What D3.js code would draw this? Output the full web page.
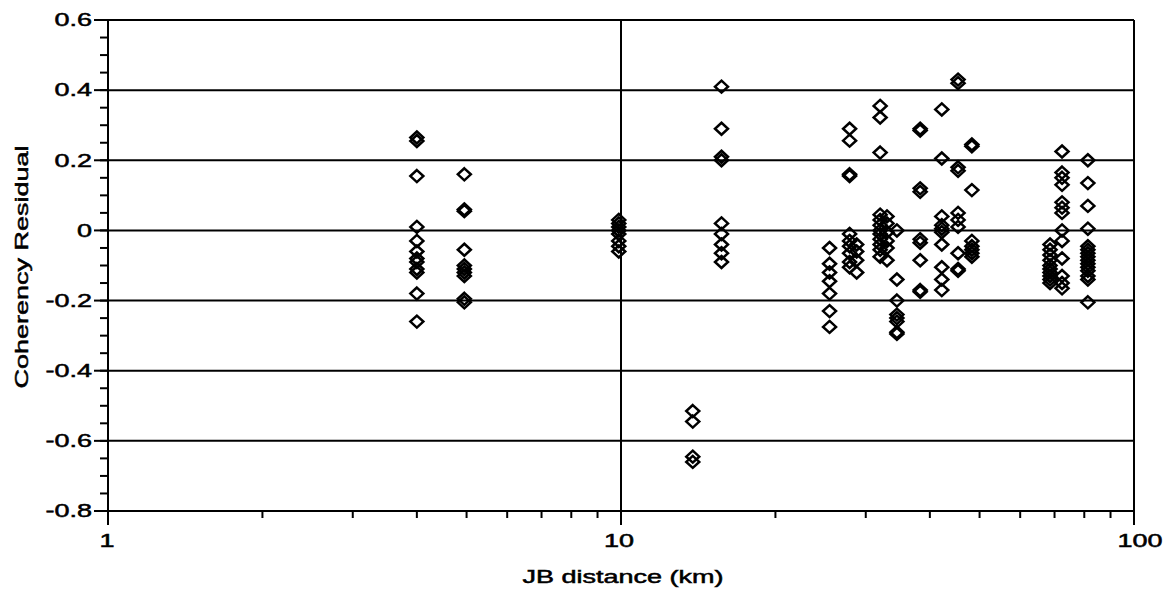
<!DOCTYPE html>
<html>
<head>
<meta charset="utf-8">
<script src="https://cdnjs.cloudflare.com/ajax/libs/d3/7.8.5/d3.min.js"></script>
<style>
  body { margin: 0; background: #fff; }
  text { font-family: Arial, "Liberation Sans", sans-serif; font-size: 18px; fill: #000; stroke: #000; stroke-width: 0.5px; }
</style>
</head>
<body>
<svg width="1170" height="590"></svg>
<script>
var svg = d3.select('svg');

// distance of each column of points (km)
var distanceKm = [4.0, 4.95, 9.9, 13.8, 15.7, 25.5, 27.9, 28.8, 32.0, 33.0, 34.5, 38.3, 42.2, 45.4, 48.3, 68.6, 72.4, 81.3];

var residuals = [
    [0.265, 0.255, 0.155, 0.01, -0.03, -0.06, -0.08, -0.09, -0.11, -0.12, -0.18, -0.26],
    [0.16, 0.06, 0.055, -0.055, -0.10, -0.11, -0.12, -0.13, -0.195, -0.205],
    [0.03, 0.02, 0.01, 0.0, -0.01, -0.03, -0.045, -0.06],
    [-0.515, -0.545, -0.645, -0.66],
    [0.41, 0.29, 0.21, 0.2, 0.02, -0.01, -0.04, -0.065, -0.09],
    [-0.05, -0.095, -0.12, -0.145, -0.18, -0.23, -0.275],
    [0.29, 0.256, 0.16, 0.155, -0.01, -0.03, -0.045, -0.065, -0.09, -0.105],
    [-0.04, -0.06, -0.085, -0.12],
    [0.355, 0.322, 0.222, 0.045, 0.03, 0.015, 0.0, -0.01, -0.025, -0.04, -0.055, -0.075],
    [0.04, 0.02, -0.005, -0.03, -0.05, -0.085],
    [0.0, -0.14, -0.2, -0.24, -0.25, -0.26, -0.29, -0.295],
    [0.29, 0.285, 0.12, 0.11, -0.025, -0.035, -0.085, -0.17, -0.175],
    [0.345, 0.205, 0.04, 0.015, 0.005, -0.005, -0.04, -0.105, -0.14, -0.17],
    [0.43, 0.42, 0.18, 0.17, 0.05, 0.03, 0.01, -0.065, -0.11, -0.115],
    [0.245, 0.24, 0.115, -0.03, -0.045, -0.055, -0.065, -0.075],
    [-0.04, -0.055, -0.07, -0.085, -0.1, -0.11, -0.12, -0.13, -0.14, -0.15],
    [0.225, 0.165, 0.15, 0.13, 0.08, 0.065, 0.05, 0.0, -0.03, -0.08, -0.13, -0.15, -0.165],
    [0.2, 0.135, 0.07, 0.005, -0.045, -0.055, -0.065, -0.075, -0.085, -0.095, -0.105, -0.115, -0.13, -0.14, -0.205]
];

var yTicks = [0.6, 0.4, 0.2, 0, -0.2, -0.4, -0.6, -0.8];
var yTickLabels = ['0.6', '0.4', '0.2', '0', '-0.2', '-0.4', '-0.6', '-0.8'];
var xTicks = [1, 10, 100];
var xTickLabels = ['1', '10', '100'];
var xMinor = [2, 3, 4, 5, 6, 7, 8, 9, 20, 30, 40, 50, 60, 70, 80, 90];
var yMinor = d3.range(-0.8, 0.6001, 0.05);

var x = d3.scaleLog().domain([1, 100]).range([108, 1134]);
var y = d3.scaleLinear().domain([-0.8, 0.6]).range([511, 20]);

var points = [];
distanceKm.forEach(function (dist, i) {
    residuals[i].forEach(function (r) {
        points.push({dist: dist, res: r});
    });
});

// horizontal grid lines
svg.selectAll('.grid')
    .data(yTicks.slice(0, 7))
    .enter()
    .append('line')
    .attr('x1', x(1))
    .attr('x2', x(100))
    .attr('y1', function(d){ return y(d); })
    .attr('y2', function(d){ return y(d); })
    .attr('stroke', '#000')
    .attr('stroke-width', 2);

// vertical line at 10 and right border at 100
svg.selectAll('.vgrid')
    .data([10, 100])
    .enter()
    .append('line')
    .attr('x1', function(d){ return x(d); })
    .attr('x2', function(d){ return x(d); })
    .attr('y1', y(0.6))
    .attr('y2', y(-0.8))
    .attr('stroke', '#000')
    .attr('stroke-width', 2);

// axes lines
svg.append('line')
    .attr('x1', x(1)).attr('x2', x(1))
    .attr('y1', y(0.6)).attr('y2', y(-0.8))
    .attr('stroke', '#000').attr('stroke-width', 2);
svg.append('line')
    .attr('x1', x(1)).attr('x2', x(100))
    .attr('y1', y(-0.8)).attr('y2', y(-0.8))
    .attr('stroke', '#000').attr('stroke-width', 2);

// y ticks
svg.selectAll('.yminor')
    .data(yMinor)
    .enter()
    .append('line')
    .attr('x1', x(1) - 8)
    .attr('x2', x(1))
    .attr('y1', function(d){ return y(d); })
    .attr('y2', function(d){ return y(d); })
    .attr('stroke', '#000').attr('stroke-width', 2);
svg.selectAll('.ymajor')
    .data(yTicks)
    .enter()
    .append('line')
    .attr('x1', x(1) - 14)
    .attr('x2', x(1))
    .attr('y1', function(d){ return y(d); })
    .attr('y2', function(d){ return y(d); })
    .attr('stroke', '#000').attr('stroke-width', 2);

// x ticks
svg.selectAll('.xminor')
    .data(xMinor)
    .enter()
    .append('line')
    .attr('x1', function(d){ return x(d); })
    .attr('x2', function(d){ return x(d); })
    .attr('y1', y(-0.8))
    .attr('y2', y(-0.8) + 7)
    .attr('stroke', '#000').attr('stroke-width', 2);
svg.selectAll('.xmajor')
    .data(xTicks)
    .enter()
    .append('line')
    .attr('x1', function(d){ return x(d); })
    .attr('x2', function(d){ return x(d); })
    .attr('y1', y(-0.8))
    .attr('y2', y(-0.8) + 14)
    .attr('stroke', '#000').attr('stroke-width', 2);

// tick labels (the original font is stretched sideways)
svg.selectAll('.ylab')
    .data(yTicks)
    .enter()
    .append('text')
    .attr('text-anchor', 'end')
    .attr('dominant-baseline', 'central')
    .attr('transform', function(d){ return 'translate(92,' + y(d) + ') scale(1.5,1)'; })
    .text(function(d, i){ return yTickLabels[i]; });

svg.selectAll('.xlab')
    .data(xTicks)
    .enter()
    .append('text')
    .attr('text-anchor', 'middle')
    .attr('transform', function(d){ return 'translate(' + (x(d) + (d === 1 ? -1 : d === 100 ? 6 : -2)) + ',547) scale(1.5,1)'; })
    .text(function(d, i){ return xTickLabels[i]; });

// axis titles
svg.append('text')
    .attr('text-anchor', 'middle')
    .attr('transform', 'translate(623,583) scale(1.5,1)')
    .text('JB distance (km)');
svg.append('text')
    .attr('text-anchor', 'middle')
    .attr('transform', 'translate(28,267) rotate(-90) scale(1.5,1)')
    .text('Coherency Residual');

// hollow diamonds
svg.selectAll('.pt')
    .data(points)
    .enter()
    .append('path')
    .attr('d', 'M0,-6L6.5,0L0,6L-6.5,0Z')
    .attr('transform', function(d){
        return 'translate(' + x(d.dist) + ',' + y(d.res) + ')';
    })
    .attr('fill', 'none')
    .attr('stroke', '#000')
    .attr('stroke-width', 2.5);
</script>
</body>
</html>
